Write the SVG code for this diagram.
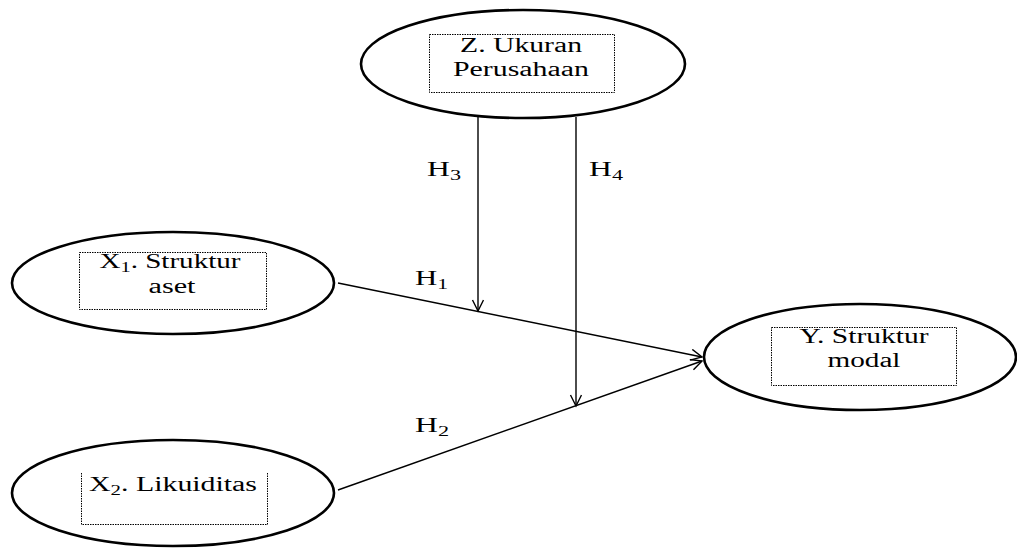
<svg xmlns="http://www.w3.org/2000/svg" width="1017" height="548" viewBox="0 0 1017 548">
<style>
.node{fill:#fff;stroke:#000;stroke-width:2.6}
.box{fill:none;stroke:#000;stroke-width:1;stroke-dasharray:1.5 1}
.t{font-family:"Liberation Serif","Times New Roman",serif;font-size:20px;fill:#000;text-anchor:middle}
.h{font-family:"Liberation Serif","Times New Roman",serif;font-size:20px;fill:#000}
.sub{font-size:14px}
.edge{stroke:#000;stroke-width:1.4;fill:none;marker-end:url(#arr)}
</style>
<defs>
<marker id="arr" markerWidth="14" markerHeight="14" refX="12" refY="6" orient="auto" markerUnits="userSpaceOnUse">
<path d="M1,0.5 L12,6 L1,11.5" fill="none" stroke="#000" stroke-width="1.4"/>
</marker>
</defs>
<rect width="1017" height="548" fill="#fff"/>
<g id="connectors">
<line class="edge" x1="338" y1="283" x2="702" y2="357"/>
<line class="edge" x1="338" y1="490" x2="702" y2="361"/>
<line class="edge" x1="478" y1="117" x2="478" y2="311"/>
<line class="edge" x1="576" y1="117" x2="576" y2="406"/>
<text class="h" x="427" y="176" textLength="34" lengthAdjust="spacingAndGlyphs">H<tspan class="sub" dy="4">3</tspan></text>
<text class="h" x="589" y="176" textLength="34" lengthAdjust="spacingAndGlyphs">H<tspan class="sub" dy="4">4</tspan></text>
<text class="h" x="415" y="285" textLength="33" lengthAdjust="spacingAndGlyphs">H<tspan class="sub" dy="4">1</tspan></text>
<text class="h" x="415" y="432" textLength="34" lengthAdjust="spacingAndGlyphs">H<tspan class="sub" dy="4">2</tspan></text>
</g>
<g id="nodeZ">
<ellipse class="node" cx="523" cy="64" rx="162" ry="54"/>
<rect class="box" x="429.5" y="34.5" width="185" height="58"/>
<text class="t" x="521" y="52" textLength="122" lengthAdjust="spacingAndGlyphs">Z. Ukuran</text>
<text class="t" x="521" y="76" textLength="136" lengthAdjust="spacingAndGlyphs">Perusahaan</text>
</g>
<g id="nodeX1">
<ellipse class="node" cx="173" cy="283" rx="161" ry="51"/>
<rect class="box" x="79.5" y="252.5" width="187" height="57"/>
<text class="t" x="170" y="268" textLength="141" lengthAdjust="spacingAndGlyphs">X<tspan class="sub" dy="4">1</tspan><tspan dy="-4">. Struktur</tspan></text>
<text class="t" x="172" y="293" textLength="47" lengthAdjust="spacingAndGlyphs">aset</text>
</g>
<g id="nodeX2">
<ellipse class="node" cx="173" cy="493" rx="161" ry="53"/>
<path class="box" d="M81.5,473 V524.5 H267.5 V473"/>
<text class="t" x="173" y="491" textLength="168" lengthAdjust="spacingAndGlyphs">X<tspan class="sub" dy="4">2</tspan><tspan dy="-4">. Likuiditas</tspan></text>
</g>
<g id="nodeY">
<ellipse class="node" cx="860" cy="357" rx="156" ry="53"/>
<rect class="box" x="771.5" y="327.5" width="185" height="58"/>
<text class="t" x="864" y="343" textLength="129" lengthAdjust="spacingAndGlyphs">Y. Struktur</text>
<text class="t" x="864" y="367" textLength="73" lengthAdjust="spacingAndGlyphs">modal</text>
</g>
</svg>
